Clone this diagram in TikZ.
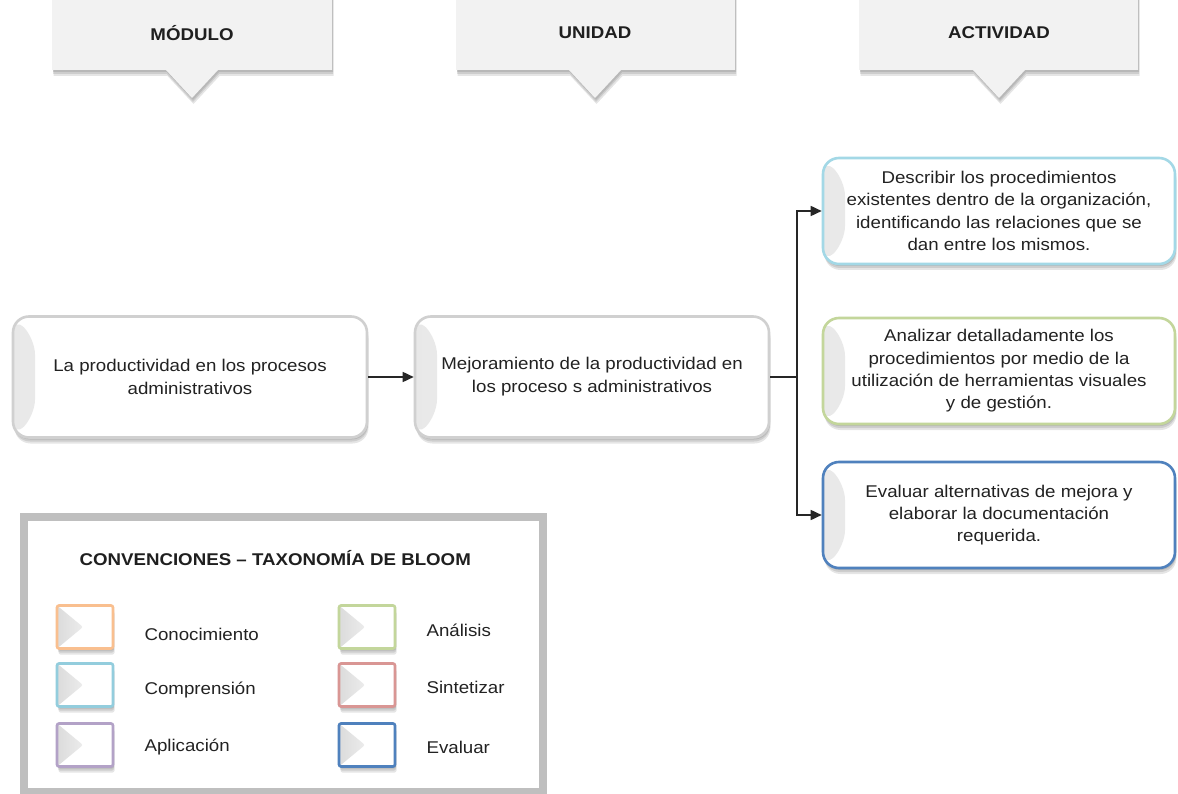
\documentclass[tikz,border=0pt]{standalone}
\usepackage{fontspec}
\setmainfont{Liberation Sans}[FakeStretch=1.1]
\usetikzlibrary{arrows.meta,shadows,calc}
\definecolor{txt}{HTML}{222222}
\definecolor{hdrfill}{HTML}{F2F2F2}
\definecolor{boxedge}{HTML}{D0D0D0}
\definecolor{cConoc}{HTML}{F9BF8F}
\definecolor{cCompr}{HTML}{93CDDD}
\definecolor{cAplic}{HTML}{B3A2C7}
\definecolor{cAnal}{HTML}{C3D69B}
\definecolor{cSint}{HTML}{D99694}
\definecolor{cEval}{HTML}{4F81BD}
\definecolor{cDesc}{HTML}{A3D8E6}
\begin{document}
\begin{tikzpicture}[x=1pt,y=-1pt,
  softshadow/.style={
      drop shadow={opacity=0.10,shadow xshift=1pt,shadow yshift=-2pt,fill=black},
      drop shadow={opacity=0.10,shadow xshift=1pt,shadow yshift=-4pt,fill=black},
      drop shadow={opacity=0.10,shadow xshift=1.5pt,shadow yshift=-6pt,fill=black}},
  hdrshape/.style={fill=hdrfill,softshadow},
  hdrtext/.style={font=\fontsize{17}{20}\selectfont\bfseries,text=black!88},
  bigbox/.style={draw=#1,line width=2.6pt,rounded corners=16pt,fill=white,
      align=center,text=txt,font=\fontsize{17}{23}\selectfont,
      softshadow,
      path picture={
        \shade[left color=black!9,right color=white]
          (path picture bounding box.north west) -- ++(22pt,-22pt)
          -- ($(path picture bounding box.south west)+(22pt,22pt)$)
          -- (path picture bounding box.south west) -- cycle;}},
  mainbox/.style={bigbox=boxedge,minimum width=354pt,minimum height=121pt},
  actbox/.style={bigbox=#1,minimum width=352pt,minimum height=106pt,
      font=\fontsize{17}{22.3}\selectfont},
  swatch/.style={draw=#1,line width=2.6pt,rounded corners=2pt,fill=white,
      minimum width=56pt,minimum height=43pt,softshadow,
      path picture={
        \shade[left color=black!14,right color=white]
          (path picture bounding box.north west)
          -- ($(path picture bounding box.center)+(-2pt,0pt)$)
          -- (path picture bounding box.south west) -- cycle;}},
  legtext/.style={anchor=west,text=txt,font=\fontsize{17}{20}\selectfont},
  link/.style={line width=1.6pt,draw=black!85},
  arr/.style={link,-{Triangle[length=11pt,width=10pt]}}
]
\useasboundingbox (0,0) rectangle (1178,794);
\fill[white] (0,0) rectangle (1178,794);

% column headers with pointer notch
\fill[hdrshape] (52,-20) -- (332,-20) -- (332,70) -- (218,70) -- (192,98)
  -- (166,70) -- (52,70) -- cycle;
\fill[hdrshape] (456,-20) -- (735,-20) -- (735,70) -- (621,70) -- (595,98)
  -- (569,70) -- (456,70) -- cycle;
\fill[hdrshape] (859,-20) -- (1138,-20) -- (1138,70) -- (1025,70) -- (999,98)
  -- (973,70) -- (859,70) -- cycle;
\node[hdrtext] (hmod) at (192,33) {MÓDULO};
\node[hdrtext] (huni) at (595,33) {UNIDAD};
\node[hdrtext] (hact) at (999,33) {ACTIVIDAD};

% module and unit boxes
\node[mainbox] (m1) at (190,377) {La productividad en los procesos\\administrativos};
\node[mainbox] (m2) at (592,377) {Mejoramiento de la productividad en\\los proceso s administrativos};

% activity boxes
\node[actbox=cDesc] (a1) at (999,211) {Describir los procedimientos\\existentes dentro de la organización,\\identificando las relaciones que se\\dan entre los mismos.};
\node[actbox=cAnal] (a2) at (999,371) {Analizar detalladamente los\\procedimientos por medio de la\\utilización de herramientas visuales\\y de gestión.};
\node[actbox=cEval] (a3) at (999,515) {Evaluar alternativas de mejora y\\elaborar la documentación\\requerida.};

% connectors
\coordinate (j) at (797,377);
\draw[arr] (m1.east) -- (m2.west);
\draw[link] (m2.east) -- (j);
\draw[arr] (j) |- (a1.west);
\draw[arr] (j) |- (a3.west);

% legend frame
\node[draw=black!25,line width=8pt,fill=white,minimum width=519pt,minimum height=275pt,
  drop shadow={opacity=0.12,shadow xshift=1pt,shadow yshift=-2pt},
  drop shadow={opacity=0.12,shadow xshift=2pt,shadow yshift=-4pt}] (leg) at (283.5,654) {};
\node[anchor=west,text=black!88,font=\fontsize{17}{20}\selectfont\bfseries] (ltitle) at (76,558)
  {CONVENCIONES – TAXONOMÍA DE BLOOM};

\node[swatch=cConoc] (s1) at (85,627) {};
\node[swatch=cCompr] (s2) at (85,685) {};
\node[swatch=cAplic] (s3) at (85,745) {};
\node[swatch=cAnal] (s4) at (367,627) {};
\node[swatch=cSint] (s5) at (367,685) {};
\node[swatch=cEval] (s6) at (367,745) {};

\node[legtext] (l1) at (141,634) {Conocimiento};
\node[legtext] (l2) at (141,690) {Comprensión};
\node[legtext] (l3) at (141,747) {Aplicación};
\node[legtext] (l4) at (423,630) {Análisis};
\node[legtext] (l5) at (423,687) {Sintetizar};
\node[legtext] (l6) at (423,747) {Evaluar};
\end{tikzpicture}
\end{document}
